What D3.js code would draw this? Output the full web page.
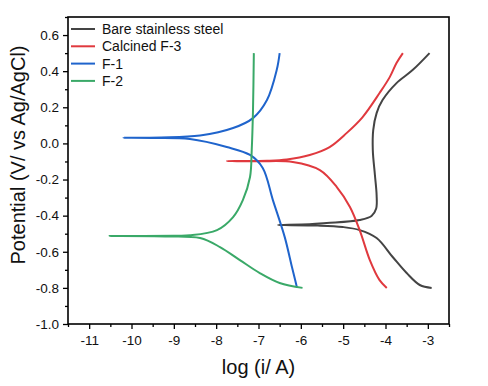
<!DOCTYPE html>
<html>
<head>
<meta charset="utf-8">
<script src="https://cdn.jsdelivr.net/npm/d3@7"></script>
<style>
    body { margin: 0; background: #fff; }
    svg text { font-family: "Liberation Sans", Arial, sans-serif; fill: #111; }
</style>
</head>
<body>
<div id="chart"></div>
<script>
// Polarization curves: [log(i/A), potential V], ordered from cathodic end to anodic end
const bareSteel = [
    [-2.91, -0.80], [-3.19, -0.784], [-3.50, -0.718], [-3.83, -0.629], [-4.21, -0.524],
    [-4.61, -0.480], [-5.01, -0.463], [-5.60, -0.455], [-6.54, -0.452],
    [-5.80, -0.448], [-5.39, -0.441], [-4.61, -0.424], [-4.33, -0.402], [-4.22, -0.360],
    [-4.21, -0.286], [-4.25, -0.175], [-4.30, -0.037], [-4.29, 0.074], [-4.21, 0.168],
    [-4.07, 0.240], [-3.74, 0.334], [-3.36, 0.406], [-2.96, 0.50]
];
const calcinedF3 = [
    [-3.97, -0.80], [-4.14, -0.757], [-4.37, -0.646], [-4.61, -0.480], [-4.84, -0.352],
    [-5.15, -0.242], [-5.55, -0.148], [-6.19, -0.103], [-7.00, -0.099], [-7.75, -0.098],
    [-6.80, -0.096], [-6.33, -0.089], [-5.79, -0.064], [-5.32, -0.020], [-4.92, 0.057],
    [-4.54, 0.146], [-4.14, 0.279], [-3.90, 0.367], [-3.74, 0.445], [-3.59, 0.50]
];
const f1 = [
    [-6.09, -0.80], [-6.13, -0.760], [-6.21, -0.685], [-6.38, -0.519], [-6.66, -0.314],
    [-6.90, -0.136], [-7.20, -0.064], [-7.75, -0.020], [-8.62, 0.024], [-9.50, 0.030],
    [-10.19, 0.031], [-9.30, 0.033], [-8.38, 0.044], [-7.60, 0.085], [-7.13, 0.140],
    [-6.80, 0.240], [-6.57, 0.406], [-6.50, 0.50]
];
const f2 = [
    [-5.96, -0.80], [-6.50, -0.773], [-6.97, -0.718], [-7.44, -0.646], [-7.91, -0.574],
    [-8.38, -0.524], [-9.20, -0.515], [-10.52, -0.513], [-9.00, -0.511], [-8.62, -0.509],
    [-7.98, -0.480], [-7.60, -0.408], [-7.37, -0.314], [-7.20, -0.186], [-7.16, -0.037],
    [-7.13, 0.185], [-7.11, 0.50]
];

const seriesNames = ['Bare stainless steel', 'Calcined F-3', 'F-1', 'F-2'];
const seriesData = [bareSteel, calcinedF3, f1, f2];
const seriesColors = ['#444444', '#e0393e', '#1f64cc', '#3aa968'];

const xTicks = [-11, -10, -9, -8, -7, -6, -5, -4, -3];
const yTicks = [-1.0, -0.8, -0.6, -0.4, -0.2, 0.0, 0.2, 0.4, 0.6];

const width = 488, height = 386;
const margin = {top: 17, right: 39, bottom: 62, left: 68};
const innerW = width - margin.left - margin.right;
const innerH = height - margin.top - margin.bottom;

const svg = d3.select('#chart')
    .append('svg')
    .attr('width', width)
    .attr('height', height);

const g = svg.append('g')
    .attr('transform', `translate(${margin.left},${margin.top})`);

const x = d3.scaleLinear().domain([-11.5, -2.5]).range([0, innerW]);
const y = d3.scaleLinear().domain([-1.0, 0.7]).range([innerH, 0]);

// Minor ticks
const xMinor = d3.range(-11.5, -2.4, 1);
const yMinor = d3.range(-0.9, 0.71, 0.2);

g.append('g')
    .attr('transform', `translate(0,${innerH})`)
    .call(d3.axisBottom(x).tickValues(xMinor).tickSize(3).tickFormat(''))
    .call(a => a.select('.domain').remove())
    .selectAll('line').attr('stroke', '#000').attr('stroke-width', 1.3);

g.append('g')
    .call(d3.axisLeft(y).tickValues(yMinor).tickSize(3).tickFormat(''))
    .call(a => a.select('.domain').remove())
    .selectAll('line').attr('stroke', '#000').attr('stroke-width', 1.3);

// Major axes
const xAxis = g.append('g')
    .attr('transform', `translate(0,${innerH})`)
    .call(d3.axisBottom(x).tickValues(xTicks).tickSize(5).tickPadding(6).tickFormat(d3.format('d')));

const yAxis = g.append('g')
    .call(d3.axisLeft(y).tickValues(yTicks).tickSize(5).tickPadding(4).tickFormat(d3.format('.1f')));

[xAxis, yAxis].forEach(a => {
    a.select('.domain').remove();
    a.selectAll('line').attr('stroke', '#000').attr('stroke-width', 1.3);
    a.selectAll('text')
        .style('font-size', '13.5px')
        .style('font-family', '"Liberation Sans", Arial, sans-serif')
        .attr('fill', '#111');
});
xAxis.selectAll('text').text(d => d3.format('d')(d).replace('−', '-'));
yAxis.selectAll('text').text(d => d3.format('.1f')(d).replace('−', '-'));

// Curves
const line = d3.line()
    .x(d => x(d[0]))
    .y(d => y(d[1]))
    .curve(d3.curveCatmullRom.alpha(0.5));

seriesData.forEach((data, i) => {
    g.append('path')
        .datum(data)
        .attr('fill', 'none')
        .attr('stroke', seriesColors[i])
        .attr('stroke-width', 2)
        .attr('stroke-linejoin', 'round')
        .attr('d', line);
});

// Frame
g.append('rect')
    .attr('width', innerW)
    .attr('height', innerH)
    .attr('fill', 'none')
    .attr('stroke', '#000')
    .attr('stroke-width', 1.6);

// Legend
const legend = g.append('g')
    .attr('transform', 'translate(3,12)');

seriesNames.forEach((name, i) => {
    const row = legend.append('g')
        .attr('transform', `translate(0,${i * 17.3})`);
    row.append('line')
        .attr('x1', 0).attr('x2', 24)
        .attr('y1', 0).attr('y2', 0)
        .attr('stroke', seriesColors[i])
        .attr('stroke-width', 2);
    row.append('text')
        .attr('x', 31)
        .attr('y', 5)
        .style('font-size', '14px')
        .text(name);
});

// Axis titles
svg.append('text')
    .attr('x', margin.left + innerW / 2)
    .attr('y', 374)
    .attr('text-anchor', 'middle')
    .style('font-size', '20px')
    .text('log (i/ A)');

svg.append('text')
    .attr('transform', 'translate(25,155) rotate(-90)')
    .attr('text-anchor', 'middle')
    .style('font-size', '20px')
    .text('Potential (V/ vs Ag/AgCl)');
</script>
</body>
</html>
